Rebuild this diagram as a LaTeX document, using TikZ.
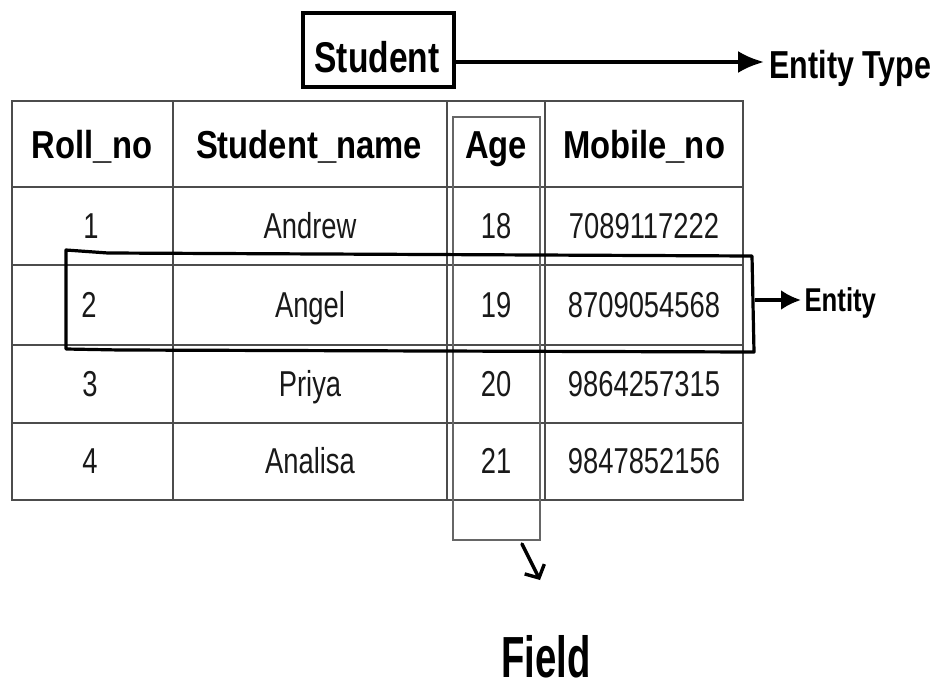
\documentclass[tikz,border=0pt]{standalone}
\usepackage{fontspec}
\setmainfont{Liberation Sans}
\newfontfamily\datafont{Liberation Sans}[FakeStretch=0.76]
\newfontfamily\headfont{Liberation Sans}[FakeStretch=0.84]
\newfontfamily\tagfont{Liberation Sans}[FakeStretch=0.78]
\newfontfamily\fieldfont{Liberation Sans}[FakeStretch=0.66]
\usetikzlibrary{arrows.meta}
\begin{document}
\begin{tikzpicture}[x=1pt,y=-1pt,
  grid/.style={draw=black!70, line width=1.6pt},
  head/.style={anchor=base, font=\headfont\bfseries\fontsize{39}{39}\selectfont},
  cell/.style={anchor=base, font=\datafont\fontsize{36}{36}\selectfont, text=black!90},
  tag/.style={anchor=base west, font=\tagfont\bfseries\fontsize{#1}{#1}\selectfont},
  pointer/.style={line width=3.6pt, -{Latex[length=26pt,width=22pt]}},
  handbox/.style={line width=3.2pt, line join=round},
  colbox/.style={draw=black!60, line width=1.3pt}]
\useasboundingbox (0,0) rectangle (936,688);

% entity type box and its label
\node[draw, line width=3.8pt, minimum width=151pt, minimum height=74pt, inner sep=0pt]
  (student) at (378.5,50) {};
\node[anchor=base, font=\tagfont\bfseries\fontsize{43}{43}\selectfont]
  (studentlbl) at (377,72) {Student};
\node[tag=39] (etype) at (766,78) {Entity Type};
\coordinate (etip) at (764,62);
\draw[pointer] (student.east |- etip) -- (etip);

% table grid
\draw[grid] (12,101) rectangle (743,500);
\foreach \y in {187,265,345,423} \draw[grid] (12,\y) -- (743,\y);
\foreach \x in {173,447,545} \draw[grid] (\x,101) -- (\x,500);

% header row
\node[head] (h1) at (92,158) {Roll\_no};
\node[head] (h2) at (309,158) {Student\_name};
\node[head] (h3) at (496,158) {Age};
\node[head] (h4) at (644,158) {Mobile\_no};

% data rows
\node[cell] (r1a) at (91,238) {1};
\node[cell] (r1b) at (310,238) {Andrew};
\node[cell] (r1c) at (496,238) {18};
\node[cell] (r1d) at (644,238) {7089117222};
\node[cell] (r2a) at (89,317) {2};
\node[cell] (r2b) at (310,317) {Angel};
\node[cell] (r2c) at (496,317) {19};
\node[cell] (r2d) at (644,317) {8709054568};
\node[cell] (r3a) at (90,396) {3};
\node[cell] (r3b) at (310,396) {Priya};
\node[cell] (r3c) at (496,396) {20};
\node[cell] (r3d) at (644,396) {9864257315};
\node[cell] (r4a) at (90,473) {4};
\node[cell] (r4b) at (310,473) {Analisa};
\node[cell] (r4c) at (496,473) {21};
\node[cell] (r4d) at (644,473) {9847852156};

% field: outline around the Age column
\draw[colbox] (453,117) rectangle (540,540);
\coordinate (fstart) at (522,544);
\coordinate (fend) at (540,580);
\draw[line width=3.4pt, line cap=round, line join=round,
  -{Straight Barb[length=10pt,width=22pt,line width=3.4pt]}] (fstart) -- (fend);
\node[anchor=base, font=\fieldfont\bfseries\fontsize{58}{58}\selectfont]
  (field) at (546,677) {Field};

% entity: hand-drawn outline around the second data row
\draw[handbox] (66,250) -- (108,253) -- (752,256) -- (754,352) -- (120,350) -- (66,349) -- cycle;
\coordinate (eout) at (755,300);
\node[tag=33] (entity) at (801,311) {Entity};
\draw[line width=3.6pt, -{Latex[length=20pt,width=20pt]}] (eout) -- (entity.west |- eout);
\end{tikzpicture}
\end{document}
